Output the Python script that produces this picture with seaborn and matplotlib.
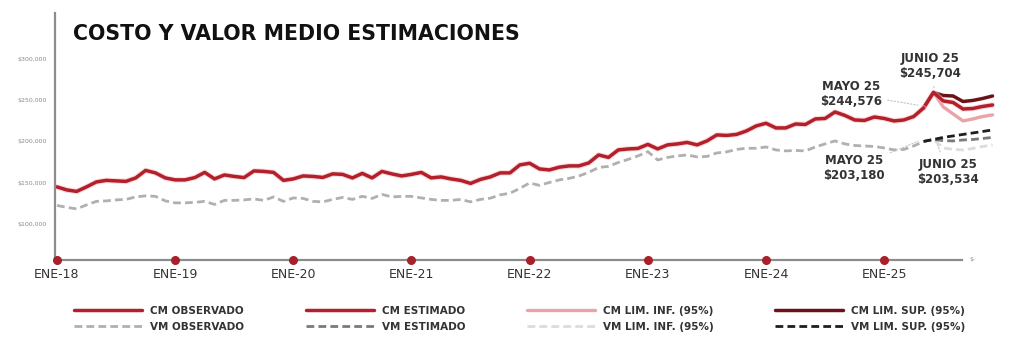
import numpy as np
import pandas as pd
import matplotlib
matplotlib.use("Agg")
import matplotlib.pyplot as plt
import matplotlib.patheffects as pe
import seaborn as sns

# valores en miles de pesos, mensuales desde ENE-18
cm_observado = [
    144.8, 141.1, 139.3, 144.8, 150.8, 152.7, 152.1, 151.5, 155.7, 164.8, 161.8, 155.7,
    153.3, 153.3, 156.1, 162.4, 154.5, 159.3, 157.5, 156.1, 164.2, 163.6, 162.4, 152.7,
    154.5, 158.1, 157.5, 156.3, 160.6, 160.0, 155.7, 161.2, 155.7, 163.6, 160.6, 158.1,
    160.0, 162.4, 155.7, 156.9, 154.5, 152.7, 149.0, 153.9, 156.9, 161.8, 161.8, 171.5,
    173.5, 166.6, 165.4, 168.7, 170.3, 170.3, 173.9, 183.6, 180.6, 189.7, 190.9, 191.5,
    196.4, 190.9, 195.8, 197.0, 198.8, 195.8, 200.6, 207.9, 207.3, 208.5, 212.7, 218.8,
    222.1, 216.4, 216.4, 221.2, 220.6, 227.3, 227.9, 235.8, 231.6, 226.1, 225.5, 229.7,
    227.9, 224.9, 226.1, 230.3, 240.7,
]
vm_observado = [
    122.3, 119.9, 118.1, 122.9, 127.2, 127.8, 129.0, 129.6, 132.6, 133.9, 133.3, 127.8,
    125.4, 125.4, 126.0, 127.2, 123.5, 128.4, 128.4, 129.0, 130.2, 128.4, 132.6, 127.2,
    131.4, 130.8, 127.2, 126.6, 129.6, 132.0, 129.6, 133.3, 130.8, 135.7, 132.6, 133.3,
    133.3, 131.4, 129.6, 128.4, 128.4, 129.6, 126.6, 129.6, 131.1, 135.1, 137.1, 143.0,
    149.6, 146.6, 150.2, 153.3, 155.1, 158.1, 162.4, 168.4, 169.7, 174.5, 178.2, 182.4,
    187.6, 177.5, 180.6, 182.4, 183.6, 181.2, 181.8, 186.0, 187.3, 190.3, 191.7, 191.7,
    193.3, 189.7, 188.5, 189.1, 188.5, 193.3, 197.0, 200.6, 197.0, 195.1, 194.5, 193.9,
    192.1, 189.7, 190.3, 194.5, 200.0,
]
# estimaciones MAY-25 a DIC-25
cm_estimado = [240.7, 259.5, 249.2, 247.3, 239.4, 240.0, 242.5, 244.3]
cm_lim_inf = [240.7, 259.5, 241.9, 233.4, 224.9, 227.3, 230.3, 232.2]
cm_lim_sup = [240.7, 259.5, 255.8, 255.2, 248.5, 249.8, 252.2, 255.2]
vm_estimado = [200.0, 202.4, 201.0, 200.6, 201.8, 202.4, 203.6, 204.9]
vm_lim_inf = [200.0, 202.4, 192.1, 190.3, 189.7, 191.5, 193.9, 195.7]
vm_lim_sup = [200.0, 202.4, 204.9, 206.7, 208.5, 210.3, 212.1, 214.0]

year_labels = ["ENE-18", "ENE-19", "ENE-20", "ENE-21", "ENE-22", "ENE-23", "ENE-24", "ENE-25"]
y_ticks = [100, 150, 200, 250, 300]

n_obs = len(cm_observado)
x_obs = np.arange(n_obs)
x_est = np.arange(n_obs - 1, n_obs - 1 + len(cm_estimado))

obs = pd.DataFrame({"mes": x_obs, "cm": np.array(cm_observado) * 1000,
                    "vm": np.array(vm_observado) * 1000})
est = pd.DataFrame({"mes": x_est,
                    "cm": np.array(cm_estimado) * 1000,
                    "cm_inf": np.array(cm_lim_inf) * 1000,
                    "cm_sup": np.array(cm_lim_sup) * 1000,
                    "vm": np.array(vm_estimado) * 1000,
                    "vm_inf": np.array(vm_lim_inf) * 1000,
                    "vm_sup": np.array(vm_lim_sup) * 1000})

sns.set_style("white")
plt.rcParams["font.family"] = ["DejaVu Sans"]

fig = plt.figure(figsize=(10.24, 3.57), dpi=100)
ax = fig.add_axes([55 / 1024, 1 - 260 / 357, (962 - 55) / 1024, (260 - 13) / 357])

RED = "#b3202b"
PINK = "#eaa3a6"
MAROON = "#6e1219"
glow = [pe.Stroke(linewidth=4, foreground="#f3c4c6", alpha=0.6), pe.Normal()]

dash = (0, (2.8, 1.5))
series = [
    (obs, "vm", "VM OBSERVADO", "#b0b0b0", dash, 2.0, False),
    (est, "vm_inf", "VM LIM. INF. (95%)", "#dcdcdc", dash, 2.0, False),
    (est, "vm", "VM ESTIMADO", "#7a7a7a", dash, 2.0, False),
    (est, "vm_sup", "VM LIM. SUP. (95%)", "#1e1e1e", dash, 2.0, False),
    (est, "cm_inf", "CM LIM. INF. (95%)", PINK, "-", 2.4, False),
    (est, "cm_sup", "CM LIM. SUP. (95%)", MAROON, "-", 2.5, False),
    (est, "cm", "CM ESTIMADO", RED, "-", 2.5, True),
    (obs, "cm", "CM OBSERVADO", RED, "-", 2.5, True),
]
handles = {}
for df, col, label, color, ls, lw, halo in series:
    sns.lineplot(data=df, x="mes", y=col, ax=ax, color=color, linewidth=lw,
                 linestyle=ls, label=label, legend=False)
    line = ax.lines[-1]
    line.set_clip_on(False)
    if halo:
        line.set_path_effects(glow)
    handles[label] = line

ax.set_xlim(-0.2, 91.9)
ax.set_ylim(56000, 356000)

year_pos = np.arange(len(year_labels)) * 12
ax.scatter(year_pos, [56000] * len(year_pos), s=30, color="#a8202a", zorder=5, clip_on=False)
ax.set_xticks(year_pos)
ax.set_xticklabels(year_labels, fontsize=9, color="#333333")
ax.tick_params(axis="x", length=0, pad=6)
ax.set_yticks([v * 1000 for v in y_ticks])
ax.set_yticklabels([f"${v:,}" for v in np.array(y_ticks) * 1000], fontsize=4.5, color="#8a8a8a")
ax.tick_params(axis="y", length=0, pad=6)
ax.set_xlabel("")
ax.set_ylabel("")

sns.despine(ax=ax, top=True, right=True)
for side in ["left", "bottom"]:
    ax.spines[side].set_color("#8c8c8c")
    ax.spines[side].set_linewidth(1.6)
ax.text(1.008, 0.0, "$-", transform=ax.transAxes, fontsize=4.5, color="#8a8a8a", va="center")

fig.text(73 / 1024, 1 - 34 / 357, "COSTO Y VALOR MEDIO ESTIMACIONES",
         fontsize=14.8, fontweight="bold", color="#111111", va="center")

note = dict(fontsize=8.5, fontweight="bold", color="#333333", ha="center", va="center",
            linespacing=1.25, annotation_clip=False)
leader = dict(arrowstyle="-", linestyle=":", color="#c8c8c8", linewidth=0.9)
ax.annotate("MAYO 25\n$244,576", xy=(n_obs - 1.3, 243500), xytext=(80.6, 257600),
            arrowprops=leader, **note)
ax.annotate("JUNIO 25\n$245,704", xy=(n_obs + 0.1, 262000), xytext=(88.7, 291600),
            arrowprops=leader, **note)
ax.annotate("MAYO 25\n$203,180", xy=(n_obs - 1.3, 201500), xytext=(80.9, 167800),
            arrowprops=leader, **note)
ax.annotate("JUNIO 25\n$203,534", xy=(n_obs + 0.3, 199000), xytext=(90.5, 163000),
            arrowprops=leader, **note)

order = ["CM OBSERVADO", "VM OBSERVADO", "CM ESTIMADO", "VM ESTIMADO",
         "CM LIM. INF. (95%)", "VM LIM. INF. (95%)", "CM LIM. SUP. (95%)", "VM LIM. SUP. (95%)"]
leg = fig.legend([handles[k] for k in order], order, ncol=4, loc="center left",
                 bbox_to_anchor=(65 / 1024, 1 - 319 / 357), frameon=False,
                 prop={"size": 7.5, "weight": "bold"}, handlelength=6.5, handletextpad=0.8,
                 columnspacing=5.9, labelspacing=0.55)
for t in leg.get_texts():
    t.set_color("#333333")
for h in leg.legend_handles:
    h.set_path_effects([])

fig.savefig("out.png", dpi=100)
